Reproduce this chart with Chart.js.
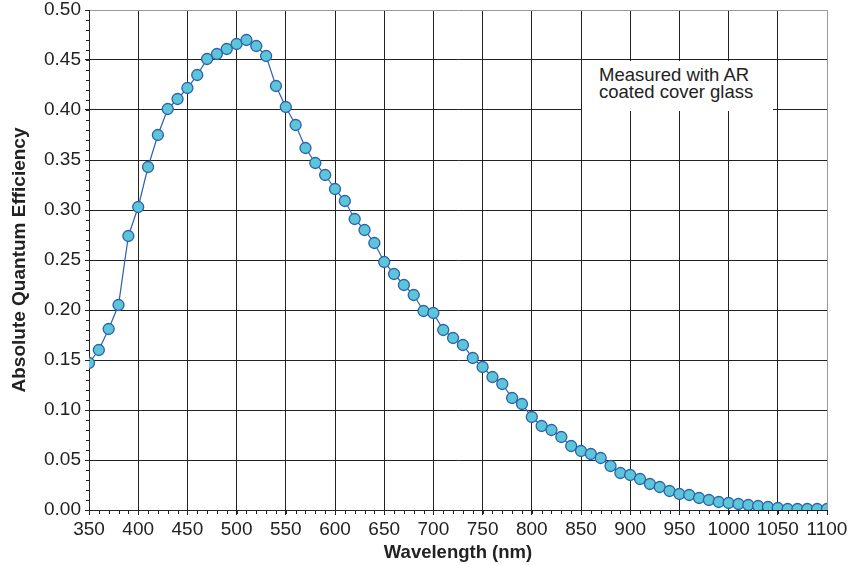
<!DOCTYPE html>
<html>
<head>
<meta charset="utf-8">
<script src="https://cdn.jsdelivr.net/npm/chart.js@4/dist/chart.umd.min.js"></script>
<style>
  html, body { margin: 0; padding: 0; background: #fff; }
  #wrap { position: relative; width: 851px; height: 565px; }
  #note {
    position: absolute; left: 582px; top: 61px; width: 191px; height: 50px;
    background: #fff; box-sizing: border-box; padding: 6px 0 0 17px;
    font-family: 'Liberation Sans', Arial, sans-serif; font-size: 18.5px;
    line-height: 16.5px; color: #222; white-space: nowrap;
  }
</style>
</head>
<body>
<div id="wrap">
  <canvas id="qe"></canvas>
  <div id="note">Measured with AR<br>coated cover glass</div>
</div>
<script>
// wavelength in nm
const wavelengths = [
  350, 360, 370, 380, 390, 400, 410, 420, 430, 440,
  450, 460, 470, 480, 490, 500, 510, 520, 530, 540,
  550, 560, 570, 580, 590, 600, 610, 620, 630, 640,
  650, 660, 670, 680, 690, 700, 710, 720, 730, 740,
  750, 760, 770, 780, 790, 800, 810, 820, 830, 840,
  850, 860, 870, 880, 890, 900, 910, 920, 930, 940,
  950, 960, 970, 980, 990, 1000, 1010, 1020, 1030, 1040,
  1050, 1060, 1070, 1080, 1090, 1100
];

// absolute QE
const efficiency = [
  0.147, 0.160, 0.181, 0.205, 0.274, 0.303, 0.343, 0.375, 0.401, 0.411,
  0.422, 0.435, 0.451, 0.456, 0.461, 0.466, 0.470, 0.464, 0.454, 0.424,
  0.403, 0.385, 0.362, 0.347, 0.335, 0.321, 0.309, 0.291, 0.280, 0.267,
  0.248, 0.236, 0.225, 0.215, 0.199, 0.197, 0.180, 0.172, 0.165, 0.152,
  0.143, 0.133, 0.126, 0.112, 0.106, 0.093, 0.084, 0.080, 0.073, 0.064,
  0.059, 0.056, 0.052, 0.044, 0.037, 0.035, 0.031, 0.026, 0.023, 0.019,
  0.016, 0.015, 0.012, 0.010, 0.008, 0.007, 0.006, 0.005, 0.004, 0.003,
  0.002, 0.001, 0.001, 0.001, 0.001, 0.001
];

const xTicks = [350, 400, 450, 500, 550, 600, 650, 700, 750, 800, 850, 900, 950, 1000, 1050, 1100];
const yTicks = [0.00, 0.05, 0.10, 0.15, 0.20, 0.25, 0.30, 0.35, 0.40, 0.45, 0.50];
const xMinorStep = 10;
const yMinorStep = 0.01;

const FONT = "'Liberation Sans', Arial, sans-serif";

// little ticks between the labelled ones
const minorTicks = {
  id: 'minorTicks',
  afterDraw(chart) {
    const { ctx, scales: { x, y } } = chart;
    ctx.save();
    ctx.strokeStyle = '#222';
    ctx.lineWidth = 1;
    ctx.beginPath();
    for (let v = xTicks[0]; v <= xTicks[xTicks.length - 1]; v += xMinorStep) {
      const px = Math.round(x.getPixelForValue(v)) + 0.5;
      ctx.moveTo(px, y.bottom);
      ctx.lineTo(px, y.bottom + 4);
    }
    for (let i = 0; i <= 50; i++) {
      const py = Math.round(y.getPixelForValue(i * yMinorStep)) + 0.5;
      ctx.moveTo(x.left - 3, py);
      ctx.lineTo(x.left + 1, py);
    }
    ctx.stroke();
    ctx.restore();
  }
};

new Chart(document.getElementById('qe'), {
  type: 'line',
  data: {
    datasets: [{
      data: wavelengths.map((w, i) => ({ x: w, y: efficiency[i] })),
      borderColor: '#2c5fae',
      borderWidth: 1.2,
      tension: 0,
      pointRadius: 5.5,
      pointBackgroundColor: '#5cc6d8',
      pointBorderColor: '#2c5fae',
      pointBorderWidth: 1.3,
    }],
  },
  options: {
    responsive: true,
    maintainAspectRatio: false,
    animation: false,
    layout: { padding: { top: 10, right: 24, left: 0, bottom: 0 } },
    plugins: {
      legend: { display: false },
      tooltip: { enabled: false },
    },
    scales: {
      x: {
        type: 'linear',
        min: 350,
        max: 1100,
        afterBuildTicks: (scale) => { scale.ticks = xTicks.map(v => ({ value: v })); },
        afterFit: (scale) => { scale.height = 55; scale.paddingLeft = 0; scale.paddingRight = 0; },
        grid: {
          color: (c) => (c.tick && c.tick.value === 1100 ? '#999' : '#222'),
          lineWidth: 1,
          tickLength: 5,
          tickColor: '#222',
        },
        border: { color: '#222', width: 1 },
        ticks: {
          color: '#222',
          padding: 3,
          maxRotation: 0,
          font: { family: FONT, size: 19 },
          callback: (v) => String(v),
        },
        title: {
          display: true,
          text: 'Wavelength (nm)',
          color: '#222',
          font: { family: FONT, size: 18.5, weight: 'bold' },
          padding: { top: 0, bottom: 1 },
        },
      },
      y: {
        min: 0,
        max: 0.5,
        afterBuildTicks: (scale) => { scale.ticks = yTicks.map(v => ({ value: v })); },
        afterFit: (scale) => { scale.width = 89; scale.paddingTop = 0; scale.paddingBottom = 0; },
        grid: {
          color: (c) => (c.tick && Math.abs(c.tick.value - 0.5) < 1e-6 ? '#999' : '#222'),
          lineWidth: 1,
          tickLength: 4,
          tickColor: '#222',
        },
        border: { color: '#222', width: 1 },
        ticks: {
          color: '#222',
          padding: 4,
          font: { family: FONT, size: 19 },
          callback: (v) => Number(v).toFixed(2),
        },
        title: {
          display: true,
          text: 'Absolute Quantum Efficiency',
          color: '#222',
          font: { family: FONT, size: 19, weight: 'bold' },
          padding: { top: 8, bottom: 0 },
        },
      },
    },
  },
  plugins: [minorTicks],
});
</script>
</body>
</html>
